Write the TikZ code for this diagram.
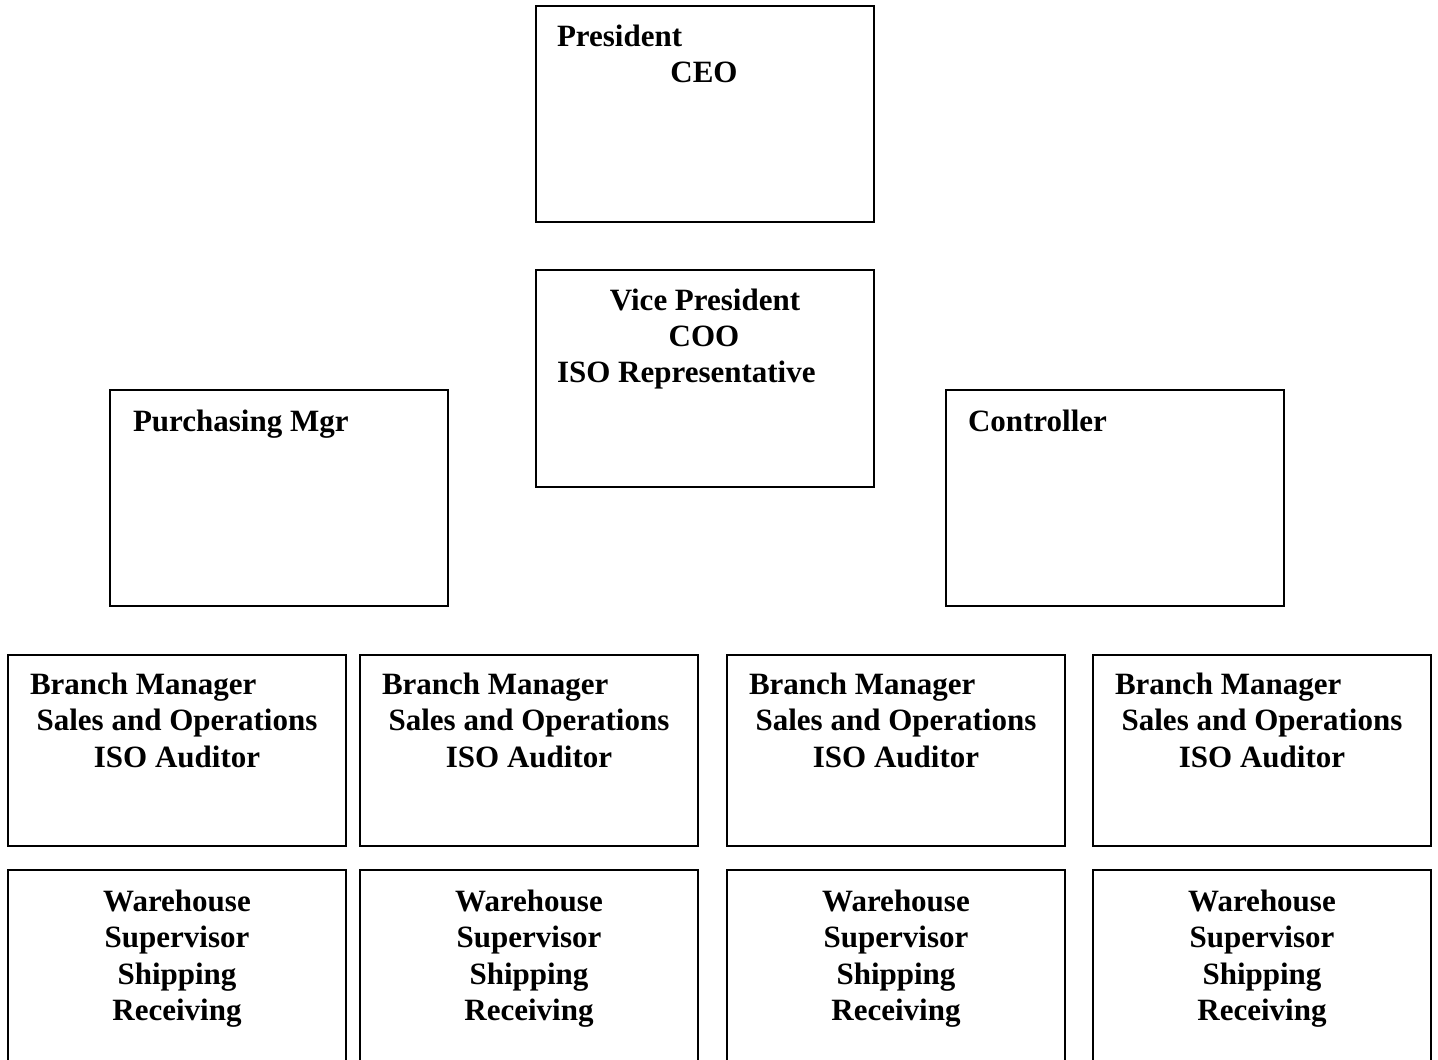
\documentclass[tikz,border=0pt]{standalone}
\usepackage{fontspec}
\setmainfont{Liberation Serif}
\begin{document}
\begin{tikzpicture}[x=0.5pt,y=-0.5pt,
  box/.style={draw, line width=1pt, inner sep=0pt, outer sep=0pt},
  lbl/.style={font=\bfseries\fontsize{15.5}{18}\selectfont, inner sep=0pt, outer sep=0pt},
  lw/.style={lbl, anchor=base west},
  lc/.style={lbl, anchor=base}]
\useasboundingbox (0,0) rectangle (1438,1059);
\clip (0,0) rectangle (1438,1059);
% top boxes
\node[box, minimum width=169pt, minimum height=108pt] (pres) at (705,114) {};
\node[box, minimum width=169pt, minimum height=108.5pt] (vp) at (705,378.5) {};
\node[box, minimum width=169pt, minimum height=108pt] (purch) at (279,498) {};
\node[box, minimum width=169pt, minimum height=108pt] (ctrl) at (1115,498) {};
\node[lw] (presA) at (557,47) {President};
\node[lc] (presB) at (704,83) {CEO};
\node[lc] (vpA) at (705,310) {Vice President};
\node[lc] (vpB) at (704,346) {COO};
\node[lw] (vpC) at (557,382) {ISO Representative};
\node[lw] (purchA) at (133,431) {Purchasing Mgr};
\node[lw] (ctrlA) at (968,431) {Controller};
% branch and warehouse rows
\foreach \i/\cx in {1/177,2/529,3/896,4/1262}{
  \node[box, minimum width=169pt, minimum height=95.5pt] (br\i) at (\cx,750.5) {};
  \node[box, minimum width=169pt, minimum height=110pt] (wh\i) at (\cx,980) {};
  \node[lw] (brA\i) at (\cx-147,694) {Branch Manager};
  \node[lc] (brB\i) at (\cx,730) {Sales and Operations};
  \node[lc] (brC\i) at (\cx,767) {ISO Auditor};
  \node[lc] (whA\i) at (\cx,911) {Warehouse};
  \node[lc] (whB\i) at (\cx,947) {Supervisor};
  \node[lc] (whC\i) at (\cx,984) {Shipping};
  \node[lc] (whD\i) at (\cx,1020) {Receiving};
}
\end{tikzpicture}
\end{document}
